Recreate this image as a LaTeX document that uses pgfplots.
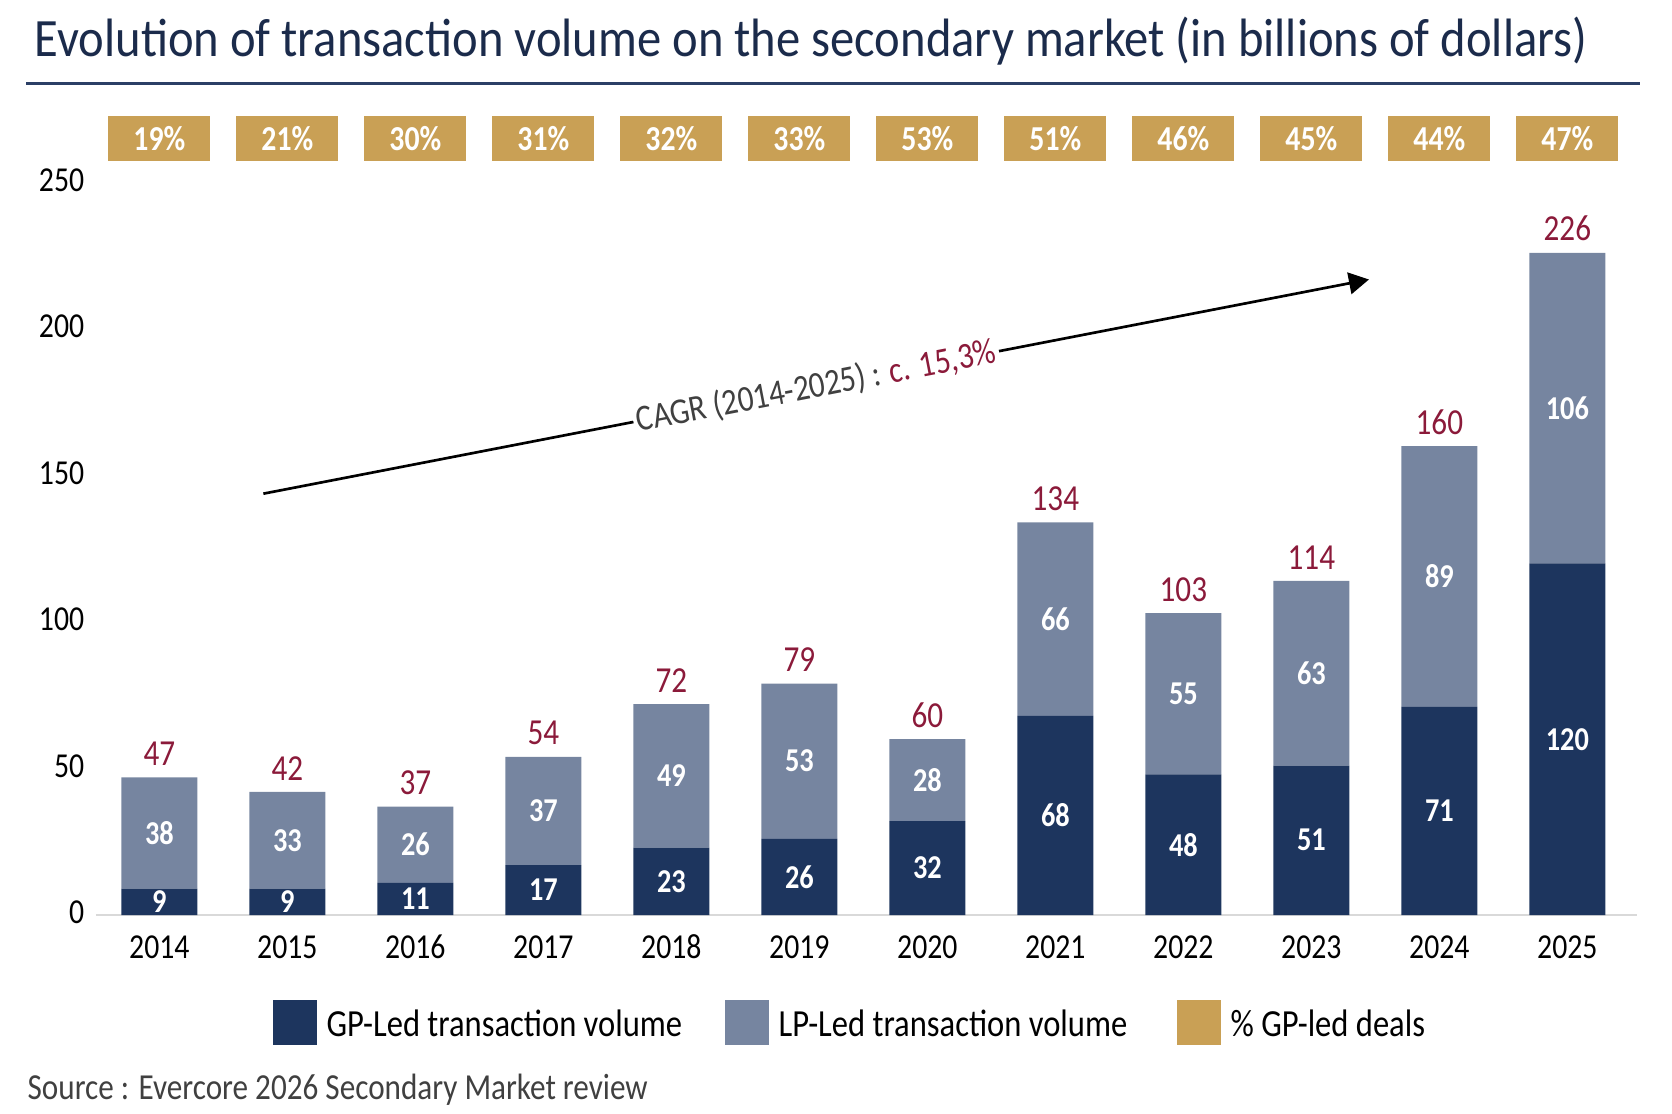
\documentclass[border=0pt]{standalone}
\usepackage{pgfplots}
\pgfplotsset{compat=1.18}
\usepackage{pgfplotstable}
\usepackage{fontspec}
\setmainfont{Carlito}[FakeStretch=0.85]
\newfontfamily\titlefont{Carlito}[FakeStretch=0.9]
\usetikzlibrary{arrows.meta}

\definecolor{gpblue}{HTML}{1D355E}
\definecolor{lpblue}{HTML}{7685A0}
\definecolor{gold}{HTML}{C9A055}
\definecolor{crimson}{HTML}{8B1A3A}
\definecolor{titleblue}{HTML}{1B2B4B}
\definecolor{rulecol}{HTML}{2B3F66}
\definecolor{srcgray}{HTML}{404040}
\definecolor{basegray}{HTML}{D9D9D9}

% Secondary market volumes (USD bn) and share of GP-led deals (%)
\pgfplotstableread{
x year gp  lp  pct
0  2014 9   38  19
1  2015 9   33  21
2  2016 11  26  30
3  2017 17  37  31
4  2018 23  49  32
5  2019 26  53  33
6  2020 32  28  53
7  2021 68  66  51
8  2022 48  55  46
9  2023 51  63  45
10 2024 71  89  44
11 2025 120 106 47
}\volumes
\pgfplotstablecreatecol[create col/expr={\thisrow{gp}+\thisrow{lp}}]{total}\volumes
\pgfplotstablecreatecol[create col/expr={\thisrow{gp}/2}]{gpmid}\volumes
\pgfplotstablecreatecol[create col/expr={\thisrow{gp}+\thisrow{lp}/2}]{lpmid}\volumes
\pgfplotstablecreatecol[create col/expr={265}]{boxy}\volumes

\pgfplotsset{
  frame/.style={
    scale only axis, width=462.3pt, height=219.75pt,
    xmin=-0.495, xmax=11.544, ymin=0, ymax=250,
    at={(28.8pt,-274.5pt)}, anchor=south west, clip=false,
    /pgf/number format/assume math mode=true,
  },
}

\begin{document}
\begin{tikzpicture}
\useasboundingbox (0,0) rectangle (501.6pt,-334.2pt);

% stacked bars
\begin{axis}[frame, ybar stacked, bar width=22.8pt,
  axis line style={draw=none}, tick style={draw=none},
  xtick={0,...,11}, xticklabels from table={\volumes}{year},
  ytick={0,50,...,250},
  ticklabel style={font=\fontsize{10.5}{12}\selectfont, text=black},
  xticklabel style={text height=7pt, text depth=0pt, yshift=-2.5pt},
  yticklabel style={yshift=0.8pt},
]
\addplot[fill=gpblue, draw=none] table[x=x, y=gp]{\volumes};
\addplot[fill=lpblue, draw=none] table[x=x, y=lp]{\volumes};
\draw[basegray, line width=0.6pt] (rel axis cs:0,0) -- (rel axis cs:1,0);
\end{axis}

% value labels, share boxes and growth arrow
\begin{axis}[frame, hide axis]
\addplot[draw=none, mark=none, nodes near coords, point meta=explicit,
  nodes near coords style={anchor=center, text=white, font=\fontsize{10}{11}\selectfont\bfseries}]
  table[x=x, y=gpmid, meta=gp]{\volumes};
\addplot[draw=none, mark=none, nodes near coords, point meta=explicit,
  nodes near coords style={anchor=center, text=white, font=\fontsize{10}{11}\selectfont\bfseries}]
  table[x=x, y=lpmid, meta=lp]{\volumes};
\addplot[draw=none, mark=none, nodes near coords, point meta=explicit,
  nodes near coords style={anchor=south, text=crimson, font=\fontsize{11}{12}\selectfont}]
  table[x=x, y=total, meta=total]{\volumes};
\addplot[draw=none, mark=none, point meta=explicit,
  nodes near coords={\pgfmathprintnumber{\pgfplotspointmeta}\%},
  nodes near coords style={anchor=center, fill=gold, text=white, inner sep=0pt,
    minimum width=30.6pt, minimum height=13.5pt, font=\fontsize{10.5}{11}\selectfont\bfseries}]
  table[x=x, y=boxy, meta=pct]{\volumes};
\draw[line width=0.8pt, -{Triangle[length=6pt, width=6.5pt]}]
  (axis cs:0.8125,143.8) --
  node[sloped, fill=white, inner sep=1pt, font=\fontsize{11}{13}\selectfont]
    {\textcolor{srcgray}{CAGR (2014-2025) :} \textcolor{crimson}{c. 15,3\%}}
  (axis cs:9.45,216.9);
\end{axis}

% title, rule, legend and source
\begin{scope}[x=0.3pt, y=-0.3pt]
\node[anchor=west, inner sep=0pt, text=titleblue, font=\titlefont\fontsize{16.2}{19}\selectfont]
  at (34,41) {Evolution of transaction volume on the secondary market (in billions of dollars)};
\draw[rulecol, line width=0.9pt] (26,84) -- (1640,84);
\fill[gpblue] (273,1000) rectangle (317,1045);
\node[anchor=west, inner sep=0pt, font=\fontsize{11.5}{13}\selectfont] at (326,1023) {GP-Led transaction volume};
\fill[lpblue] (725,1000) rectangle (769,1045);
\node[anchor=west, inner sep=0pt, font=\fontsize{11.5}{13}\selectfont] at (778,1023) {LP-Led transaction volume};
\fill[gold] (1177,1000) rectangle (1221,1045);
\node[anchor=west, inner sep=0pt, font=\fontsize{11.5}{13}\selectfont] at (1230,1023) {\% GP-led deals};
\node[anchor=west, inner sep=0pt, text=srcgray, font=\fontsize{11}{13}\selectfont] at (27,1090) {Source : Evercore 2026 Secondary Market review};
\end{scope}
\end{tikzpicture}
\end{document}
